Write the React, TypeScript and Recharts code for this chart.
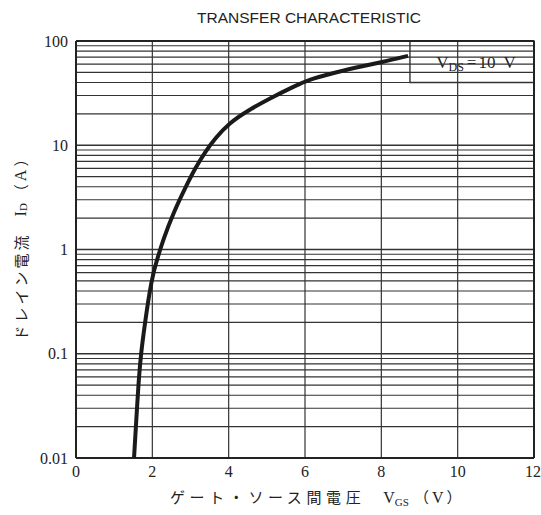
import React from 'react';
import {
  LineChart,
  Line,
  XAxis,
  YAxis,
  ReferenceLine,
  ReferenceArea,
  Label,
} from 'recharts';

document.body.style.margin = '0';

// gate-source voltage (V) and drain current (A)
const vgs = [1.52, 1.57, 1.63, 1.7, 1.81, 1.92, 2.03, 2.15, 2.28, 2.55, 2.87, 3.12, 3.38, 3.64, 4.01, 4.48, 5.08, 5.79, 6.08, 6.65, 7.26, 8.04, 8.7];
const idA = [0.01, 0.02, 0.048, 0.1, 0.2, 0.38, 0.61, 0.86, 1.23, 2.24, 3.95, 6.0, 8.6, 11.6, 16.3, 21.3, 28.2, 37.8, 42.3, 48.2, 55, 63, 72];

const xTicks = [0, 2, 4, 6, 8, 10, 12];
const yTicks = [0.01, 0.1, 1, 10, 100];
const decades = [0.01, 0.1, 1, 10];
const multipliers = [2, 3, 4, 5, 6, 7, 8, 9];

const data = vgs.map((v, i) => ({ vgs: v, id: idA[i] }));
const minorY = decades.flatMap((d) => multipliers.map((m) => +(d * m).toPrecision(3)));

const SERIF = '"Liberation Serif", "DejaVu Serif", serif';
const JP = '"Noto Sans CJK JP", sans-serif';
const INK = '#222';

function BoxLabel(props: any) {
  const { viewBox } = props;
  const cx = viewBox.x + viewBox.width / 2 + 4;
  const cy = viewBox.y + viewBox.height / 2 + 6;
  return (
    <text x={cx} y={cy} textAnchor="middle" fontFamily={SERIF} fontSize={17} fill={INK}>
      V
      <tspan fontSize={12} dy={3}>DS</tspan>
      <tspan dy={-3} dx={3}>=</tspan>
      <tspan dx={2}>10</tspan>
      <tspan dx={8}>V</tspan>
    </text>
  );
}

function XTitle(props: any) {
  const y = 503;
  return (
    <text x={170} y={y} textAnchor="start" fontFamily={SERIF} fontSize={16} fill={INK}>
      <tspan fontFamily={JP} fontSize={15} style={{ letterSpacing: '4.6px' }}>ゲート・ソース間電圧</tspan>
      <tspan dx={18}>V</tspan>
      <tspan fontSize={11} dy={3}>GS</tspan>
      <tspan dy={-3} dx={5} fontFamily={JP} fontSize={15}>（</tspan>
      <tspan dx={3}>V</tspan>
      <tspan dx={3} fontFamily={JP} fontSize={15}>）</tspan>
    </text>
  );
}

function YTitle(props: any) {
  const x = 20;
  const y = 246;
  return (
    <text
      x={x}
      y={y}
      transform={`rotate(-90, ${x}, ${y})`}
      textAnchor="middle"
      dominantBaseline="central"
      fontFamily={SERIF}
      fontSize={16}
      fill={INK}
    >
      <tspan fontFamily={JP} fontSize={15} style={{ letterSpacing: '3px' }}>ドレイン電流</tspan>
      <tspan dx={16}>I</tspan>
      <tspan fontSize={11} dy={3}>D</tspan>
      <tspan dy={-3} dx={4} fontFamily={JP} fontSize={15}>（</tspan>
      <tspan dx={3}>A</tspan>
      <tspan dx={3} fontFamily={JP} fontSize={15}>）</tspan>
    </text>
  );
}

export default function App() {
  return (
    <div style={{ position: 'relative', width: 541, height: 515, background: '#fff' }}>
      <div
        style={{
          position: 'absolute',
          top: 9,
          left: 0,
          width: 618,
          textAlign: 'center',
          fontFamily: '"Liberation Sans Narrow", "Liberation Sans", sans-serif',
          fontSize: 15.5,
          color: INK,
          lineHeight: '18px',
        }}
      >
        TRANSFER CHARACTERISTIC
      </div>
      <LineChart width={541} height={515} data={data} margin={{ top: 41, right: 7, bottom: 0, left: 0 }}>
        <XAxis
          dataKey="vgs"
          type="number"
          domain={[0, 12]}
          ticks={xTicks}
          axisLine={false}
          tickLine={false}
          tick={{ fontFamily: SERIF, fontSize: 16, fill: INK }}
          height={57}
          allowDataOverflow
        >
          <Label content={<XTitle />} />
        </XAxis>
        <YAxis
          dataKey="id"
          scale="log"
          domain={[0.01, 100]}
          ticks={yTicks}
          tickFormatter={(v: number) => String(v)}
          axisLine={false}
          tickLine={false}
          tick={{ fontFamily: SERIF, fontSize: 16, fill: INK }}
          width={76}
          allowDataOverflow
        >
          <Label content={<YTitle />} />
        </YAxis>

        {minorY.map((v) => (
          <ReferenceLine key={`h${v}`} y={v} stroke="#333" strokeWidth={1.2} />
        ))}
        {decades.slice(1).map((v) => (
          <ReferenceLine key={`d${v}`} y={v} stroke="#333" strokeWidth={1.4} />
        ))}
        {xTicks.slice(1, -1).map((v) => (
          <ReferenceLine key={`v${v}`} x={v} stroke="#333" strokeWidth={1.2} />
        ))}

        <ReferenceArea
          x1={8.75}
          x2={12}
          y1={40}
          y2={100}
          fill="#fff"
          fillOpacity={1}
          stroke="#333"
          strokeWidth={1.4}
          label={<BoxLabel />}
        />

        <ReferenceLine x={0} stroke={INK} strokeWidth={2} />
        <ReferenceLine x={12} stroke={INK} strokeWidth={2} />
        <ReferenceLine y={0.01} stroke={INK} strokeWidth={2} />
        <ReferenceLine y={100} stroke={INK} strokeWidth={2} />

        <Line
          dataKey="id"
          type="basis"
          stroke="#1a1a1a"
          strokeWidth={4}
          dot={false}
          isAnimationActive={false}
        />
      </LineChart>
    </div>
  );
}
